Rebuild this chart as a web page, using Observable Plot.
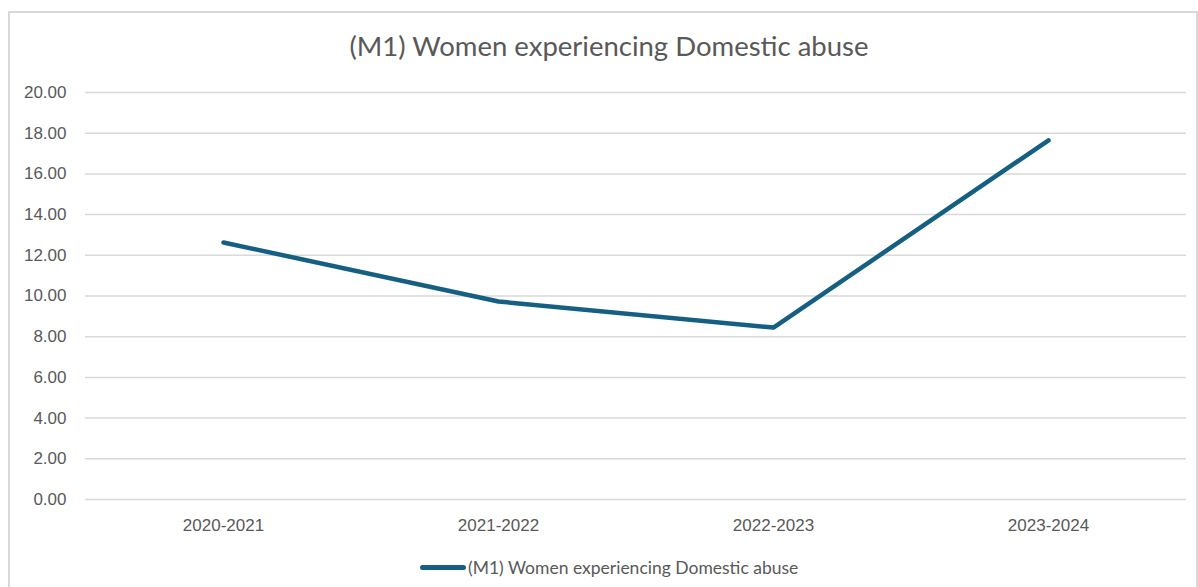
<!DOCTYPE html>
<html>
<head>
<meta charset="utf-8">
<script src="https://cdn.jsdelivr.net/npm/d3@7"></script>
<script src="https://cdn.jsdelivr.net/npm/@observablehq/plot@0.6"></script>
<style>
  html, body { margin: 0; padding: 0; background: #fff; }
  #wrap { position: relative; width: 1198px; height: 587px; overflow: hidden; font-family: Lato, "Liberation Sans", sans-serif; }
  #frame { position: absolute; left: 8px; top: 11px; width: 1190px; height: 600px; border: 2px solid #d9d9d9; box-sizing: border-box; }
  #title { position: absolute; left: 0; width: 1218px; top: 29px; text-align: center; font-size: 27.5px; color: #595959; }
  #chart { position: absolute; left: 0; top: 0; }
  #legend { position: absolute; left: 420px; top: 557px; display: flex; align-items: center; font-size: 17.5px; color: #595959; }
  #legend .sw { width: 46px; height: 5px; border-radius: 3px; background: #156082; margin-right: 2px; }
</style>
</head>
<body>
<div id="wrap">
  <div id="frame"></div>
  <div id="chart"></div>
  <div id="title">(M1) Women experiencing Domestic abuse</div>
  <div id="legend"><span class="sw"></span><span>(M1) Women experiencing Domestic abuse</span></div>
</div>
<script>
const categories = ["2020-2021", "2021-2022", "2022-2023", "2023-2024"];
const values = [12.63, 9.73, 8.45, 17.65];
const yTicks = [0, 2, 4, 6, 8, 10, 12, 14, 16, 18, 20];

const data = categories.map((c, i) => ({period: c, value: values[i]}));

const chart = Plot.plot({
  width: 1198,
  height: 587,
  marginTop: 92,
  marginBottom: 88,
  marginLeft: 85,
  marginRight: 12,
  style: {fontFamily: "'Liberation Sans', Arial, sans-serif", fontSize: "17px", color: "#595959", background: "transparent"},
  x: {type: "point", domain: categories, padding: 0.5, label: null},
  y: {domain: [0, 20], label: null},
  marks: [
    Plot.ruleY(yTicks, {stroke: "#d9d9d9", strokeWidth: 1.5}),
    Plot.axisY({ticks: yTicks, tickFormat: d => d.toFixed(2), tickSize: 0, tickPadding: 19, label: null, fill: "#595959"}),
    Plot.axisX({tickSize: 0, tickPadding: 19, label: null, fill: "#595959"}),
    Plot.line(data, {x: "period", y: "value", stroke: "#156082", strokeWidth: 4.5, strokeLinecap: "round", strokeLinejoin: "round"})
  ]
});
document.getElementById("chart").appendChild(chart);
</script>
</body>
</html>
